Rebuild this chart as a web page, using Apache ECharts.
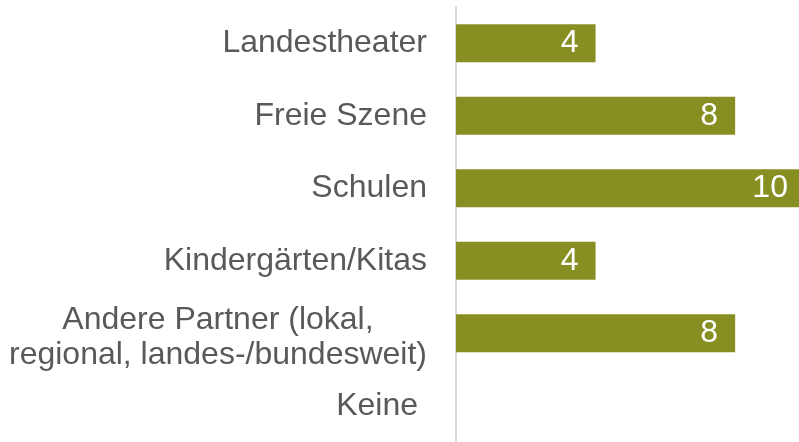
<!DOCTYPE html>
<html>
<head>
<meta charset="utf-8">
<script src="https://cdn.jsdelivr.net/npm/echarts@6/dist/echarts.min.js"></script>
<style>
html,body{margin:0;padding:0;background:#fff;}
#chart{width:799px;height:442px;}
</style>
</head>
<body>
<div id="chart"></div>
<script>
const categories = [
  "Landestheater",
  "Freie Szene",
  "Schulen",
  "Kindergärten/Kitas",
  "Andere Partner (lokal,\nregional, landes-/bundesweit)",
  "Keine"
];
const values = [4, 8, 10, 4, 8, 0];

const FONT = '"Liberation Sans", Arial, sans-serif';
const chart = echarts.init(document.getElementById('chart'));
chart.setOption({
  animation: false,
  grid: { left: 456, right: 0, top: 7, bottom: -3, containLabel: false },
  xAxis: {
    type: 'value', min: 0, max: 9.83,
    show: false
  },
  yAxis: {
    type: 'category',
    inverse: true,
    data: categories.map(c => c === 'Keine'
      ? { value: c, textStyle: { padding: [0, 9, 0, 0] } }
      : c.indexOf('\n') >= 0
      ? { value: c, textStyle: { padding: [8, 0, 0, 0] } }
      : c),
    axisLine: { show: true, lineStyle: { color: '#d9d9d9', width: 2 } },
    axisTick: { show: false },
    splitLine: { show: false },
    axisLabel: {
      margin: 29,
      fontFamily: FONT,
      fontSize: 32,
      color: '#595959',
      formatter: v => v.split('\n').map(l => '{c|' + l + '}').join('\n'),
      rich: {
        c: { fontFamily: FONT, fontSize: 32, color: '#595959', lineHeight: 35, align: 'center' }
      }
    }
  },
  series: [{
    type: 'bar',
    data: values,
    barWidth: 38,
    clip: false,
    itemStyle: { color: '#878f23' },
    label: {
      show: true,
      position: 'insideRight',
      distance: 17,
      color: '#ffffff',
      fontFamily: FONT,
      fontSize: 32,
      formatter: p => p.value ? String(p.value) : ''
    }
  }]
});
</script>
</body>
</html>
